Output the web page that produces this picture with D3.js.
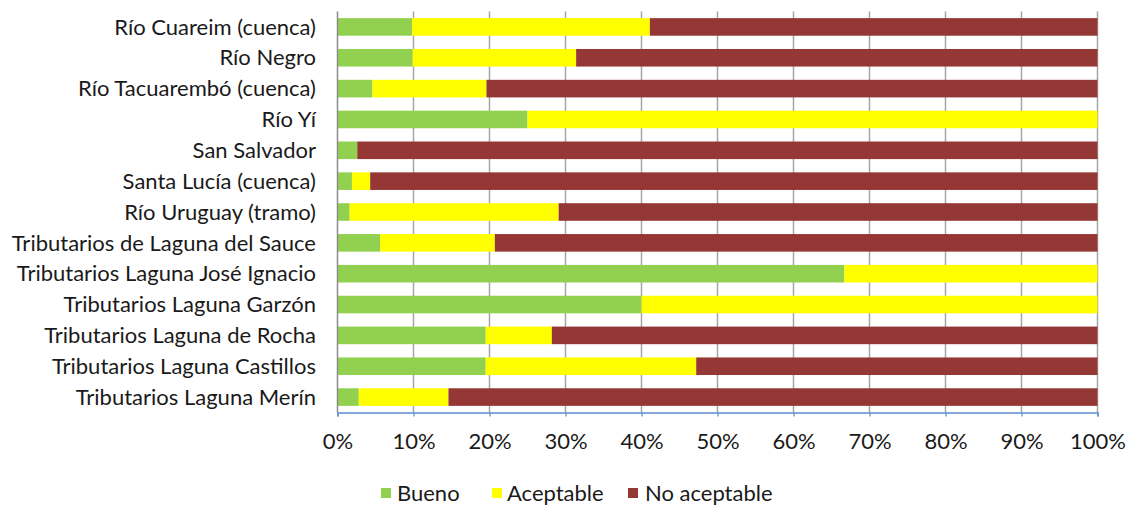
<!DOCTYPE html>
<html><head><meta charset="utf-8">
<script src="https://cdn.jsdelivr.net/npm/d3@7"></script>
<style>body{margin:0;background:#fff}svg{display:block}text{font-family:Lato,"Open Sans",sans-serif;fill:#1a1a1a}</style>
</head><body><svg id="c" width="1127" height="506"></svg>
<script>
const categories = ["Río Cuareim (cuenca)","Río Negro","Río Tacuarembó (cuenca)","Río Yí","San Salvador","Santa Lucía (cuenca)","Río Uruguay (tramo)","Tributarios de Laguna del Sauce","Tributarios Laguna José Ignacio","Tributarios Laguna Garzón","Tributarios Laguna de Rocha","Tributarios Laguna Castillos","Tributarios Laguna Merín"];
const bueno =       [9.8, 9.9, 4.6, 25.0, 2.6, 1.9, 1.6, 5.6, 66.7, 40.0, 19.5, 19.5, 2.8];
const aceptable =   [31.3, 21.5, 15.0, 75.0, 0.0, 2.4, 27.5, 15.1, 33.3, 60.0, 8.7, 27.7, 11.8];
const noAceptable = [58.9, 68.6, 80.4, 0.0, 97.4, 95.7, 70.9, 79.3, 0.0, 0.0, 71.8, 52.8, 85.4];
const seriesNames = ["Bueno","Aceptable","No aceptable"];
const colors = ["#92d050","#ffff00","#953735"];
const ticks = [0,0.1,0.2,0.3,0.4,0.5,0.6,0.7,0.8,0.9,1.0];

const svg = d3.select("#c");
const m = {left:337.5, right:1097.5, top:11.5, bottom:412.5};
const x = d3.scaleLinear().domain([0,1]).range([m.left,m.right]);
const y = d3.scaleBand().domain(categories).range([m.top,m.bottom]).paddingInner(0.43).paddingOuter(0.215);

const rows = categories.map((c,i)=>({cat:c, Bueno:bueno[i], Aceptable:aceptable[i], "No aceptable":noAceptable[i]}));
rows.forEach(r=>{const t=r.Bueno+r.Aceptable+r["No aceptable"]; seriesNames.forEach(s=>r[s]=r[s]/t);});
const stack = d3.stack().keys(seriesNames)(rows);

// gridlines
svg.append("g").selectAll("line").data(ticks.slice(1)).join("line")
  .attr("x1",d=>x(d)).attr("x2",d=>x(d)).attr("y1",m.top).attr("y2",m.bottom)
  .attr("stroke","#a6a6a6").attr("stroke-width",1.5);

// bars
svg.append("g").selectAll("g").data(stack).join("g").attr("fill",(d,i)=>colors[i])
  .selectAll("rect").data(d=>d).join("rect")
  .attr("x",d=>x(d[0])).attr("width",d=>x(d[1])-x(d[0]))
  .attr("y",d=>y(d.data.cat)).attr("height",y.bandwidth());

// left axis line
svg.append("line").attr("x1",m.left).attr("x2",m.left).attr("y1",m.top).attr("y2",m.bottom)
  .attr("stroke","#8c8c8c").attr("stroke-width",1.5);

// bottom axis
const xa = svg.append("g").attr("transform",`translate(0,${m.bottom})`)
  .call(d3.axisBottom(x).tickValues(ticks).tickFormat(d3.format(".0%")).tickSize(4).tickPadding(17));
xa.select(".domain").attr("stroke","#5b8fd0").attr("stroke-width",1.5);
xa.selectAll(".tick line").attr("stroke","#5b8fd0").attr("stroke-width",1.2);
xa.selectAll("text").style("font-size","22px").style("font-family","Lato").attr("fill","#1a1a1a");

// y labels
svg.append("g").selectAll("text").data(categories).join("text")
  .attr("x",316).attr("y",d=>y(d)+y.bandwidth()/2).attr("dy","0.35em")
  .attr("text-anchor","end").style("font-size","22px").text(d=>d);

// legend
const leg = [{x:381,tx:397},{x:492,tx:507},{x:628,tx:645}];
const lg = svg.append("g");
seriesNames.forEach((s,i)=>{
  lg.append("rect").attr("x",leg[i].x).attr("y",488).attr("width",10).attr("height",10).attr("fill",colors[i]);
  lg.append("text").attr("x",leg[i].tx).attr("y",493).attr("dy","0.35em").style("font-size","22px").text(s);
});
</script></body></html>
